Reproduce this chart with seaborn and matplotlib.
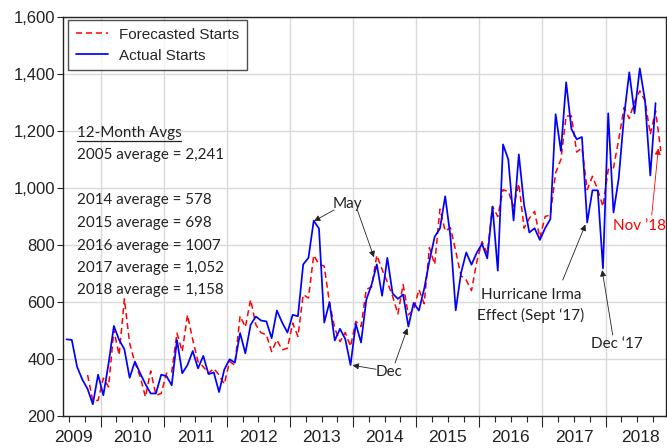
import pandas as pd
import matplotlib
matplotlib.use("Agg")
import matplotlib.pyplot as plt
import matplotlib.transforms as mtrans
from matplotlib.lines import Line2D
import seaborn as sns


# monthly starts
actual_start = "2009-06"
actual = [469, 467, 373, 328, 295, 241, 345, 273, 385, 516,
          467, 434, 334, 391, 350, 312, 279, 279, 345, 340,
          308, 467, 350, 379, 428, 367, 411, 347, 353, 284,
          363, 399, 387, 491, 420, 520, 549, 535, 532, 473,
          570, 528, 493, 555, 550, 732, 755, 885, 858, 528,
          599, 465, 506, 470, 379, 524, 458, 608, 661, 732,
          622, 755, 630, 611, 626, 514, 597, 570, 646, 744,
          829, 858, 971, 829, 571, 701, 774, 731, 773, 804,
          753, 935, 710, 1153, 1100, 886, 1118, 941, 844, 859,
          818, 859, 891, 1259, 1130, 1371, 1207, 1171, 1179, 879,
          992, 992, 718, 1262, 914, 1035, 1251, 1406, 1262, 1420,
          1306, 1044, 1298]

forecast_start = "2009-10"
forecast = [344, 253, 255, 333, 302, 502, 414, 611, 455, 387,
            338, 267, 358, 273, 279, 350, 355, 491, 426, 555,
            467, 391, 373, 350, 367, 344, 312, 391, 379, 551,
            512, 608, 520, 492, 485, 426, 467, 432, 438, 526,
            479, 626, 614, 764, 732, 726, 597, 508, 461, 493,
            444, 532, 514, 645, 652, 764, 714, 670, 620, 558,
            661, 555, 573, 644, 594, 791, 732, 926, 849, 861,
            779, 692, 677, 640, 741, 812, 771, 935, 900, 994,
            988, 935, 1015, 859, 894, 918, 824, 900, 906, 1053,
            1100, 1253, 1253, 1126, 1141, 994, 1041, 994, 935, 1065,
            1071, 1171, 1282, 1244, 1302, 1341, 1306, 1188, 1271, 1130]

years = list(range(2009, 2019))
y_ticks = [200, 400, 600, 800, 1000, 1200, 1400, 1600]

avg_title = "12-Month Avgs"
avg_lines = ["2005 average = 2,241",
             "2014 average = 578",
             "2015 average = 698",
             "2016 average = 1007",
             "2017 average = 1,052",
             "2018 average = 1,158"]


def dec_year(start, n):
    d = pd.date_range(start, periods=n, freq="MS")
    return d.year + (d.month - 1) / 12 + 1 / 24


act_df = pd.DataFrame({"x": dec_year(actual_start, len(actual)), "starts": actual})
fc_df = pd.DataFrame({"x": dec_year(forecast_start, len(forecast)), "starts": forecast})

sns.set_style("white")
narrow = ["Liberation Sans Narrow", "Liberation Sans", "DejaVu Sans"]
soft = ["Lato", "DejaVu Sans"]
plt.rcParams["font.family"] = narrow

fig = plt.figure(figsize=(6.67, 4.48), dpi=100)
ax = fig.add_axes([0.0948, 0.0714, 0.9037, 0.8906])

sns.lineplot(data=fc_df, x="x", y="starts", ax=ax, color="#ff0000", lw=1.1,
             linestyle=(0, (4, 2.5)), label="Forecasted Starts", zorder=3)
sns.lineplot(data=act_df, x="x", y="starts", ax=ax, color="#0000ff", lw=1.25,
             label="Actual Starts", zorder=4)

ax.set_xlim(2009.406, 2018.957)
ax.set_ylim(200, 1600)
ax.set_xlabel("")
ax.set_ylabel("")

ax.set_yticks(y_ticks)
ax.set_yticklabels([f"{v:,}" for v in y_ticks], fontsize=12, color="#222222")
ax.set_xticks(range(2010, 2019))
ax.set_xticklabels([])
ax.set_xticks([y + q / 4 for y in range(2009, 2019) for q in (1, 2, 3)
               if 2009.406 < y + q / 4 < 2018.957], minor=True)
ax.tick_params(axis="x", which="major", length=8, width=0.8, direction="out", bottom=True)
ax.tick_params(axis="x", which="minor", length=4, width=0.8, direction="out", bottom=True)
ax.tick_params(axis="y", length=4, width=0.8, direction="out", left=True, pad=2)

ax.grid(True, which="major", color="#d9d9d9", lw=1)
ax.set_axisbelow(True)
for s in ax.spines.values():
    s.set_color("#222222")
    s.set_linewidth(1)

# year labels between the year ticks
blend = mtrans.blended_transform_factory(ax.transData, ax.transAxes)
label_pos = {2009: 2009.572, 2018: 2018.559}
for yr in years:
    ax.text(label_pos.get(yr, yr + 0.5), -0.035, str(yr), transform=blend,
            ha="center", va="top", fontsize=12.5, color="#222222")

leg = ax.legend(loc="upper left", bbox_to_anchor=(0.0085, 0.9925), borderaxespad=0,
                frameon=True, fancybox=False, edgecolor="#222222", fontsize=11,
                handlelength=2.1, handletextpad=0.7, labelspacing=0.45, borderpad=0.5)
leg.get_frame().set_linewidth(1)

# 12-month averages block
title_txt = ax.text(0.0224, 0.7093, avg_title, transform=ax.transAxes, ha="left",
                    va="center", fontsize=10.9, family=soft, color="#222222")
avg_y = [0.6541, 0.5414, 0.4850, 0.4261, 0.3709, 0.3158]
for yy, line in zip(avg_y, avg_lines):
    ax.text(0.0224, yy, line, transform=ax.transAxes, ha="left", va="center",
            fontsize=10.9, family=soft, color="#222222")

# annotations
arrow_kw = dict(arrowstyle="-|>", color="#222222", lw=0.6, shrinkA=0, shrinkB=0,
                mutation_scale=9)
note_kw = dict(ha="center", va="center", fontsize=11, family=soft, color="#222222")

ax.text(2013.903, 944, "May", **note_kw)
ax.annotate("", xy=(2013.38, 884), xytext=(2013.697, 923), arrowprops=arrow_kw)
ax.annotate("", xy=(2014.33, 757), xytext=(2014.066, 923), arrowprops=arrow_kw)

ax.text(2014.576, 354, "Dec", **note_kw)
ax.annotate("", xy=(2013.99, 378), xytext=(2014.363, 364), arrowprops=arrow_kw)
ax.annotate("", xy=(2014.86, 508), xytext=(2014.664, 386), arrowprops=arrow_kw)

ax.text(2016.818, 588, "Hurricane Irma\nEffect (Sept \u201817)", linespacing=1.45,
        multialignment="center", **note_kw)
ax.annotate("", xy=(2017.68, 872), xytext=(2017.321, 677), arrowprops=arrow_kw)

ax.text(2018.176, 454, "Dec \u201817", **note_kw)
ax.annotate("", xy=(2017.945, 712), xytext=(2018.113, 484), arrowprops=arrow_kw)

red_kw = dict(note_kw, color="#ff0000")
ax.text(2018.541, 867, "Nov \u201918", **red_kw)
ax.annotate("", xy=(2018.836, 1139), xytext=(2018.731, 905),
            arrowprops=dict(arrow_kw, color="#ff0000"))

# underline for the block title
fig.canvas.draw()
bb = title_txt.get_window_extent()
inv = ax.transAxes.inverted()
x0 = inv.transform((bb.x0, 0))[0]
x1 = inv.transform((bb.x1, 0))[0]
ax.add_line(Line2D([x0, x1], [0.690, 0.690], transform=ax.transAxes, color="#222222",
                   lw=0.9, clip_on=False))

fig.savefig("out.png", dpi=100)
